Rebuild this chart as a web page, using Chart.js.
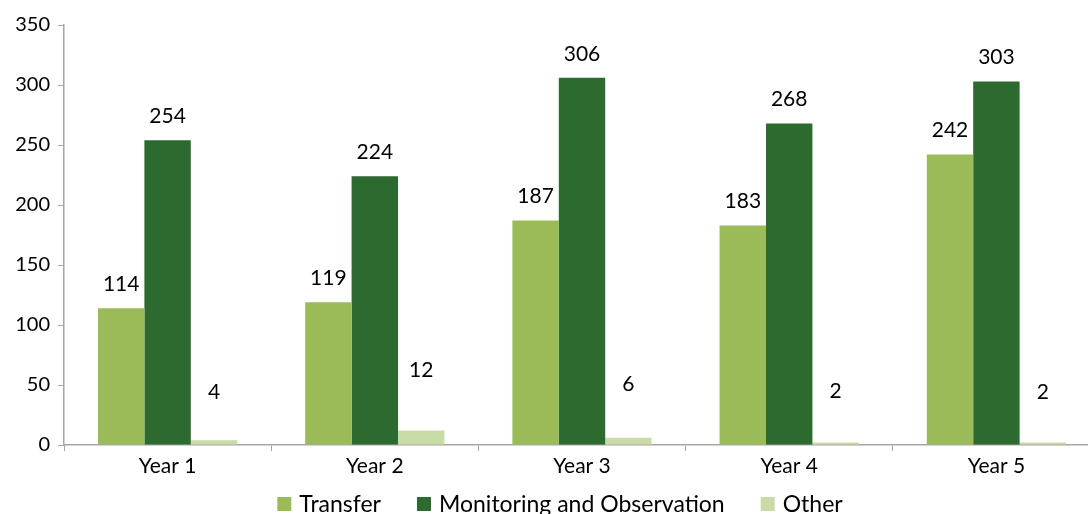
<!DOCTYPE html>
<html>
<head>
<meta charset="utf-8">
<script src="https://cdn.jsdelivr.net/npm/chart.js@4.4.1/dist/chart.umd.min.js"></script>
<style>
  html, body { margin: 0; padding: 0; background: #fff; overflow: hidden; }
  #wrap { width: 1100px; height: 514px; }
</style>
</head>
<body>
<div id="wrap"><canvas id="chart"></canvas></div>
<script>
const years = ["Year 1", "Year 2", "Year 3", "Year 4", "Year 5"];
const transfer = [114, 119, 187, 183, 242];
const monitoring = [254, 224, 306, 268, 303];
const other = [4, 12, 6, 2, 2];
const yTicks = [0, 50, 100, 150, 200, 250, 300, 350];

const FONT = "Lato";
const axisGray = "#a6a6a6";
const textColor = "#000";

// how far above the bar top each value label sits
const labelLift = [
  [24, 24, 24, 24, 24],
  [24, 24, 24, 24, 24],
  [48, 60, 54, 51, 50]
];

const valueLabels = {
  id: "valueLabels",
  afterDatasetsDraw(chart) {
    const ctx = chart.ctx;
    ctx.save();
    ctx.font = "21px " + FONT;
    ctx.fillStyle = textColor;
    ctx.textAlign = "center";
    ctx.textBaseline = "middle";
    chart.data.datasets.forEach((ds, di) => {
      chart.getDatasetMeta(di).data.forEach((bar, i) => {
        ctx.fillText(String(ds.data[i]), bar.x, bar.y - labelLift[di][i]);
      });
    });
    ctx.restore();
  }
};

// legend row under the axis
const bottomLegend = {
  id: "bottomLegend",
  afterDraw(chart) {
    const ctx = chart.ctx;
    const items = chart.data.datasets.map(ds => ({ text: ds.label, color: ds.backgroundColor }));
    const box = 14, gap = 8, spacing = 36, cy = 504, center = 560;
    ctx.save();
    ctx.font = "23px " + FONT;
    ctx.textBaseline = "middle";
    const widths = items.map(it => box + gap + ctx.measureText(it.text).width);
    const total = widths.reduce((a, b) => a + b, 0) + spacing * (items.length - 1);
    let x = center - total / 2;
    items.forEach((it, i) => {
      ctx.fillStyle = it.color;
      ctx.fillRect(x, cy - box / 2, box, box);
      ctx.fillStyle = textColor;
      ctx.fillText(it.text, x + box + gap, cy + 1);
      x += widths[i] + spacing;
    });
    ctx.restore();
  }
};

new Chart(document.getElementById("chart"), {
  type: "bar",
  data: {
    labels: years,
    datasets: [
      { label: "Transfer", data: transfer, backgroundColor: "#9bbb59" },
      { label: "Monitoring and Observation", data: monitoring, backgroundColor: "#2d6a2f" },
      { label: "Other", data: other, backgroundColor: "#c9dba6" }
    ]
  },
  options: {
    responsive: true,
    maintainAspectRatio: false,
    animation: false,
    layout: { padding: { top: 25, right: 0, bottom: 29, left: 0 } },
    datasets: {
      bar: { categoryPercentage: 0.672, barPercentage: 1.0, borderWidth: 0 }
    },
    plugins: {
      legend: { display: false },
      tooltip: { enabled: false }
    },
    scales: {
      x: {
        grid: { offset: true, drawOnChartArea: false, color: axisGray, tickLength: 6 },
        border: { color: axisGray, width: 1.5 },
        ticks: { color: textColor, font: { family: FONT, size: 21 }, padding: 3 },
        afterFit(s) { s.height = 40; }
      },
      y: {
        min: 0,
        max: 350,
        afterBuildTicks(s) { s.ticks = yTicks.map(v => ({ value: v })); },
        grid: { drawOnChartArea: false, color: axisGray, tickLength: 6 },
        border: { color: axisGray, width: 1.5 },
        ticks: { color: textColor, font: { family: FONT, size: 20 }, padding: 8 },
        afterFit(s) { s.width = 64; }
      }
    }
  },
  plugins: [valueLabels, bottomLegend]
});
</script>
</body>
</html>
